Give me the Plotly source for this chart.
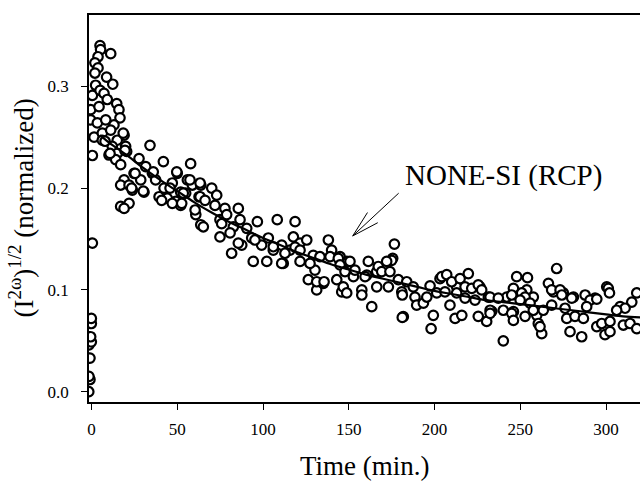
import plotly.graph_objects as go

# ---- data ----
time_min = [
    -1.6, -0.9, -1.5, -0.9, -1.5, -0.1, -0.5, -0.1, -0.1, 0.5, 0.5,
    4.96, 5.3, 11.2, 3.8, 2.0, 3.8, 2.0, 8.8, 12.4, 2.4, 0.5, 5.0, 7.3, 14.7, -0.5, 4.4, 9.2, 16.0,
    16.6, -0.5, 3.4, 8.3, 13.1, 1.5, 6.3, 11.2, 19.0, 6.3, 15.0, 12.1, 19.9, 34.1, 10.2, 15.0, 20.5,
    14.1, 17.0, 27.7, 41.9, 57.8, 31.6, 24.8, 35.5, 37.4, 50.0, 19.0, 17.0, 21.9, 28.7, 23.8, 30.6,
    42.3, 47.1, 55.9, 58.8, 63.7, 52.0, 44.2, 54.9, 62.7, 39.4, 49.1, 21.9, 17.0, 19.0, 60.8, 63.7,
    52.0, 47.1,
    18.5, 7.9, 19.5, 10.8, 25.4, 36.0, 49.7, 57.4, 63.3, 23.4, 45.8, 53.5, 63.3, 40.9, 52.6, 60.4,
    65.2, 74.9, 30.2,
    70.1, 73.0, 66.2, 72.0, 77.8, 85.6, 78.8, 86.6, 96.7, 108.3, 118.7, 75.9, 82.7, 90.5, 74.9, 80.8,
    87.6, 93.4, 81.7, 94.3, 99.2, 103.1, 102.2, 106.0, 110.9, 111.8, 115.7, 117.7, 121.6, 125.5,
    121.6, 129.3, 138.1, 133.2, 140.0, 126.4, 131.3, 135.2, 130.3, 143.0, 145.9, 148.8, 144.9,
    85.6, 95.3, 106.0, 112.8, 118.7, 110.9,
    121.6, 139.1, 143.9, 144.9, 147.8, 152.7, 160.5, 166.3, 171.1, 127.4, 131.3, 146.8, 157.6,
    181.8, 180.9, 188.6, 203.2, 212.9, 226.5, 242.1, 246.0, 253.8, 257.6, 269.3, 275.1, 281.0,
    293.6, 300.4, 308.2, 246.0, 175.6, 135.6,
    176.6, 175.0, 172.1, 161.4, 150.7, 153.6, 167.2, 159.5, 169.2, 174.0, 178.9, 183.8, 187.6,
    148.8, 157.6, 166.3, 173.1, 163.4, 181.2, 181.2, 189.6, 193.5, 195.5, 197.4, 199.3, 198.0,
    204.2, 207.1, 210.0, 201.3, 206.1, 212.9, 209.0, 212.0, 215.9, 214.9, 219.7, 217.8, 221.7,
    225.5, 227.5, 231.4, 225.5, 230.4, 233.4, 217.8, 223.6,
    271.2, 247.9, 254.2, 266.4, 268.3, 273.2, 301.3, 302.0, 317.9, 232.4, 237.2, 245.0, 250.8,
    252.8, 249.9, 255.7, 274.2, 280.0, 287.8, 290.7, 294.6, 268.3, 276.1, 288.7, 315.0, 311.1,
    306.2, 232.4, 240.1, 245.0, 259.6, 252.8, 246.0, 260.5, 277.1, 281.9, 286.8, 294.6, 297.5,
    302.3, 299.4, 302.3, 310.1, 314.0, 317.9, 279.0, 285.8, 262.5, 261.5, 240.1, 232.4, 263.4,
    257.6,
]
signal = [
    0.000, 0.012, 0.015, 0.033, 0.046, 0.049, 0.054, 0.067, 0.072, 0.146, 0.232,
    0.340, 0.336, 0.332, 0.329, 0.323, 0.318, 0.313, 0.309, 0.302, 0.301, 0.291, 0.296, 0.293, 0.283, 0.277, 0.280, 0.287, 0.277,
    0.269, 0.267, 0.264, 0.267, 0.262, 0.250, 0.254, 0.257, 0.252, 0.247, 0.247, 0.241, 0.241, 0.242, 0.2325, 0.234, 0.236,
    0.228, 0.223, 0.229, 0.226, 0.224, 0.221, 0.2145, 0.2145, 0.208, 0.2145, 0.208, 0.203, 0.203, 0.208, 0.198, 0.196,
    0.200, 0.205, 0.208, 0.203, 0.203, 0.196, 0.190, 0.195, 0.1915, 0.1915, 0.187, 0.185, 0.182, 0.180, 0.174, 0.164,
    0.183, 0.185,
    0.254, 0.246, 0.237, 0.234, 0.2145, 0.216, 0.216, 0.208, 0.205, 0.200, 0.200, 0.195, 0.1915, 0.188, 0.185, 0.1785,
    0.162, 0.169, 0.197,
    0.200, 0.193, 0.188, 0.183, 0.180, 0.180, 0.174, 0.169, 0.167, 0.169, 0.167, 0.165, 0.162, 0.1605, 0.152, 0.156,
    0.144, 0.151, 0.136, 0.128, 0.144, 0.151, 0.128, 0.139, 0.144, 0.126, 0.139, 0.152, 0.146, 0.149,
    0.128, 0.134, 0.149, 0.1326, 0.139, 0.110, 0.100, 0.1065, 0.1195, 0.110, 0.098, 0.128, 0.1326,
    0.146, 0.149, 0.1424, 0.136, 0.142, 0.126,
    0.139, 0.1326, 0.131, 0.1245, 0.118, 0.113, 0.1146, 0.118, 0.1228, 0.126, 0.108, 0.103, 0.100,
    0.0737, 0.098, 0.093, 0.111, 0.103, 0.103, 0.093, 0.1015, 0.100, 0.093, 0.098, 0.097, 0.093,
    0.092, 0.103, 0.0835, 0.0786, 0.131, 0.108,
    0.145, 0.129, 0.128, 0.128, 0.128, 0.1195, 0.123, 0.113, 0.118, 0.118, 0.110, 0.108, 0.103,
    0.097, 0.095, 0.103, 0.103, 0.0835, 0.095, 0.073, 0.085, 0.087, 0.093, 0.104, 0.075, 0.062,
    0.113, 0.115, 0.108, 0.097, 0.098, 0.097, 0.085, 0.072, 0.075, 0.111, 0.116, 0.103, 0.1015,
    0.105, 0.100, 0.093, 0.074, 0.069, 0.079, 0.092, 0.090,
    0.121, 0.113, 0.112, 0.1065, 0.100, 0.100, 0.1015, 0.097, 0.097, 0.093, 0.092, 0.095, 0.097,
    0.093, 0.090, 0.087, 0.095, 0.092, 0.095, 0.090, 0.091, 0.085, 0.082, 0.0835, 0.088, 0.082,
    0.080, 0.080, 0.080, 0.077, 0.075, 0.074, 0.070, 0.067, 0.072, 0.074, 0.072, 0.064, 0.067,
    0.069, 0.056, 0.059, 0.0655, 0.067, 0.062, 0.059, 0.054, 0.057, 0.064, 0.050, 0.077, 0.080,
    0.080,
]

# fitted decay curve
fit_time = [5, 10, 20, 30, 40, 50, 60, 70, 80, 90, 100, 110, 120, 130, 140, 150, 160,
            170, 180, 190, 200, 210, 220, 230, 240, 250, 260, 270, 280, 290, 300, 310, 320]
fit_signal = [0.252, 0.245, 0.233, 0.220, 0.208, 0.197, 0.186, 0.176, 0.167, 0.159, 0.151,
              0.144, 0.137, 0.131, 0.125, 0.120, 0.115, 0.111, 0.107, 0.103, 0.099, 0.096,
              0.093, 0.090, 0.088, 0.086, 0.084, 0.082, 0.080, 0.078, 0.076, 0.074, 0.073]

x_ticks = [0, 50, 100, 150, 200, 250, 300]
y_ticks = [0.0, 0.1, 0.2, 0.3]

label_text = "NONE-SI (RCP)"
x_title = "Time (min.)"
y_title = "(I<sup>2ω</sup>)<sup>1/2</sup> (normalized)"

FONT = "Liberation Serif"

fig = go.Figure()
fig.add_trace(go.Scatter(
    x=time_min, y=signal, mode="markers",
    marker=dict(symbol="circle", size=9.5, color="white",
                line=dict(color="black", width=2.2)),
    showlegend=False, cliponaxis=True,
))
fig.add_trace(go.Scatter(
    x=fit_time, y=fit_signal, mode="lines",
    line=dict(color="black", width=2.2, shape="spline"),
    showlegend=False,
))

# arrow (shaft + two barbs) pointing at the curve
tip = (152.3, 0.153)
for end in [(179.1, 0.195), (160.9, 0.176), (166.9, 0.166)]:
    fig.add_shape(type="line", xref="x", yref="y",
                  x0=end[0], y0=end[1], x1=tip[0], y1=tip[1],
                  line=dict(color="black", width=1))

fig.add_annotation(x=240.2, y=0.212, xref="x", yref="y", text=label_text,
                   showarrow=False, xanchor="center", yanchor="middle",
                   font=dict(family=FONT, size=29, color="black"))
fig.add_annotation(x=0.5, y=0, xref="paper", yref="paper", text=x_title,
                   showarrow=False, xanchor="center", yanchor="middle", yshift=-64,
                   font=dict(family=FONT, size=27, color="black"))
fig.add_annotation(x=0, y=0.5, xref="paper", yref="paper", text=y_title,
                   showarrow=False, xanchor="center", yanchor="middle", xshift=-68,
                   textangle=-90,
                   font=dict(family=FONT, size=27, color="black"))

fig.update_layout(
    width=640, height=481,
    margin=dict(l=89, r=0, t=15, b=79, pad=0),
    paper_bgcolor="white", plot_bgcolor="white",
    font=dict(family=FONT, color="black"),
    xaxis=dict(range=[-1.46, 319.8], tickvals=x_ticks, ticktext=[str(v) for v in x_ticks],
               ticks="outside", ticklen=6, tickwidth=1, tickcolor="black",
               showline=True, linecolor="black", linewidth=1.5, mirror=True,
               showgrid=False, zeroline=False, ticklabelstandoff=5,
               tickfont=dict(family=FONT, size=17, color="black")),
    yaxis=dict(range=[-0.0101, 0.370], tickvals=y_ticks, ticktext=[f"{v:.1f}" for v in y_ticks],
               ticks="outside", ticklen=6, tickwidth=1, tickcolor="black",
               showline=True, linecolor="black", linewidth=1.5, mirror=False,
               showgrid=False, zeroline=False, ticklabelstandoff=9,
               tickfont=dict(family=FONT, size=17, color="black")),
)

fig.write_html("out.html", config={"displayModeBar": False},
               post_script="document.body.style.margin='0';")
